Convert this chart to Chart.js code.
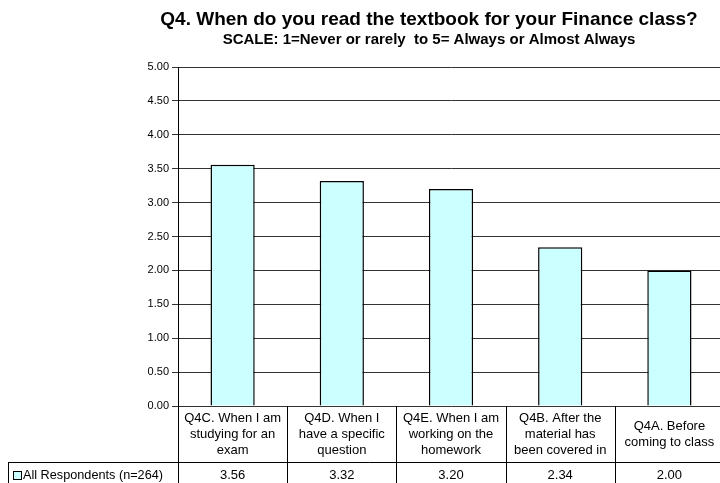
<!DOCTYPE html>
<html>
<head>
<meta charset="utf-8">
<script src="https://cdn.jsdelivr.net/npm/chart.js@4"></script>
<style>
    html, body { margin: 0; padding: 0; background: #fff; overflow: hidden; }
</style>
</head>
<body>
<canvas id="chart" width="730" height="490"></canvas>
<script>
// Chart data
const categories = [
    ['Q4C. When I am', 'studying for an', 'exam'],
    ['Q4D. When I', 'have a specific', 'question'],
    ['Q4E. When I am', 'working on the', 'homework'],
    ['Q4B. After the', 'material has', 'been covered in'],
    ['Q4A. Before', 'coming to class']
];
const seriesName = 'All Respondents (n=264)';
const seriesValues = [3.56, 3.32, 3.20, 2.34, 2.00];
const yTicks = [0, 0.5, 1, 1.5, 2, 2.5, 3, 3.5, 4, 4.5, 5];
const titleText = 'Q4. When do you read the textbook for your Finance class?';
const subtitleText = 'SCALE: 1=Never or rarely  to 5= Always or Almost Always';

const FONT = '"Liberation Sans", Arial, sans-serif';
const barFill = '#CCFFFF';

// draws the titles and the data table under the plot
const tablePlugin = {
    id: 'dataTable',
    afterDraw(chart) {
        const ctx = chart.ctx;
        const area = chart.chartArea;
        const x = chart.scales.x;
        const step = x.getPixelForValue(1) - x.getPixelForValue(0);
        const bottom = chart.height;
        const rowSplit = area.bottom + 56;

        ctx.save();
        ctx.fillStyle = '#000';
        ctx.textAlign = 'center';
        ctx.textBaseline = 'alphabetic';
        ctx.font = 'bold 19px ' + FONT;
        ctx.fillText(titleText, 429, 25);
        ctx.font = 'bold 15px ' + FONT;
        ctx.fillText(subtitleText, 429, 44);

        // table grid
        ctx.strokeStyle = '#000';
        ctx.lineWidth = 1;
        ctx.beginPath();
        for (let i = 0; i <= categories.length; i++) {
            const bx = Math.round(x.getPixelForValue(i) - step / 2) + 0.5;
            ctx.moveTo(bx, area.bottom);
            ctx.lineTo(bx, bottom);
        }
        ctx.moveTo(8.5, rowSplit + 0.5);
        ctx.lineTo(chart.width, rowSplit + 0.5);
        ctx.moveTo(8.5, rowSplit);
        ctx.lineTo(8.5, bottom);
        ctx.stroke();

        // category labels and values
        ctx.textBaseline = 'middle';
        ctx.font = '13px ' + FONT;
        const lineH = 16;
        const rowMid = (area.bottom + rowSplit) / 2;
        categories.forEach((lines, i) => {
            const cx = x.getPixelForValue(i);
            const y0 = rowMid - (lines.length - 1) * lineH / 2;
            lines.forEach((t, j) => ctx.fillText(t, cx, y0 + j * lineH));
            ctx.fillText(seriesValues[i].toFixed(2), cx, rowSplit + 13);
        });

        // legend key
        ctx.fillStyle = barFill;
        ctx.fillRect(13, rowSplit + 9, 8, 8);
        ctx.strokeRect(13.5, rowSplit + 9.5, 8, 8);
        ctx.fillStyle = '#000';
        ctx.textAlign = 'left';
        ctx.font = '12.7px ' + FONT;
        ctx.fillText(seriesName, 23, rowSplit + 13);
        ctx.restore();
    }
};

new Chart(document.getElementById('chart'), {
    type: 'bar',
    data: {
        labels: categories,
        datasets: [{
            label: seriesName,
            data: seriesValues,
            backgroundColor: barFill,
            borderColor: '#000',
            borderWidth: 1.5,
            barPercentage: 0.405,
            categoryPercentage: 1
        }]
    },
    options: {
        responsive: false,
        animation: false,
        devicePixelRatio: 1,
        layout: { padding: { left: 0, right: 6, top: 67, bottom: 84 } },
        plugins: {
            legend: { display: false },
            title: { display: false },
            tooltip: { enabled: false }
        },
        scales: {
            x: { display: false },
            y: {
                min: 0,
                max: 5,
                afterFit(scale) { scale.width = 178; },
                afterBuildTicks(scale) { scale.ticks = yTicks.map(v => ({ value: v })); },
                ticks: {
                    color: '#000',
                    font: { family: FONT, size: 11 },
                    padding: 3,
                    callback: v => v.toFixed(2)
                },
                grid: { color: '#333', tickLength: 6 },
                border: { color: '#000' }
            }
        }
    },
    plugins: [tablePlugin]
});
</script>
</body>
</html>
